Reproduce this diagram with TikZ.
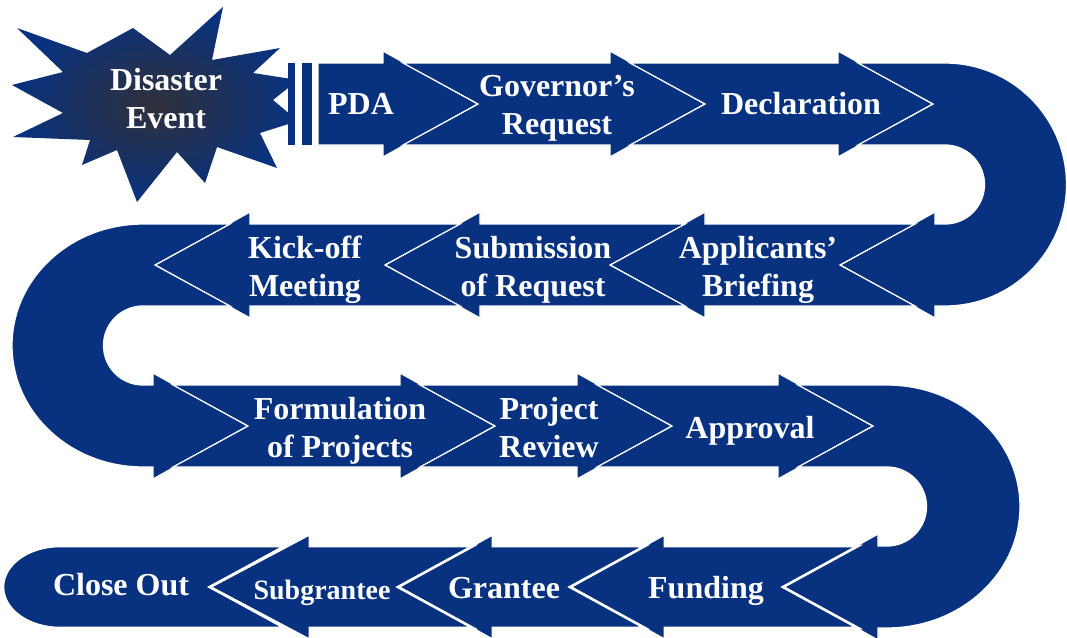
\documentclass[tikz,border=0pt]{standalone}
\usepackage{fontspec}
\setmainfont{Liberation Serif}
\definecolor{fema}{RGB}{8,50,128}
\definecolor{starcore}{RGB}{48,48,58}
\def\hb{41}\def\hh{53}\def\dd{75}
% rightward arrow: notch x, head base x, tip x, centre y, style
\newcommand\RArw[5]{\draw[#5] ({#1-\dd},{#4-\hb}) -- (#2,{#4-\hb}) -- (#2,{#4-\hh}) -- (#3,#4) -- (#2,{#4+\hh}) -- (#2,{#4+\hb}) -- ({#1-\dd},{#4+\hb}) -- (#1,#4) -- cycle;}
% leftward arrow
\newcommand\LArw[5]{\draw[#5] ({#1+\dd},{#4-\hb}) -- (#2,{#4-\hb}) -- (#2,{#4-\hh}) -- (#3,#4) -- (#2,{#4+\hh}) -- (#2,{#4+\hb}) -- ({#1+\dd},{#4+\hb}) -- (#1,#4) -- cycle;}
\begin{document}
\begin{tikzpicture}[x=1pt,y=-1pt,
  band/.style={fill=fema,draw=white,line width=1.3pt,line join=miter},
  bandthick/.style={band,line width=2.6pt},
  lbl/.style={text=white,font=\fontsize{32}{38}\selectfont\bfseries,align=center,inner sep=0pt}]
\clip (0,0) rectangle (1067,637);
\fill[white] (0,0) rectangle (1067,637);
% disaster star
\shade[inner color=starcore,outer color=fema] (223,7) -- (212,60) -- (280,48) -- (253,73) -- (298,80) -- (273,100) -- (298,121) -- (260,133) -- (277,168) -- (217,147) -- (205,183) -- (177,152) -- (137,202) -- (117,150) -- (82,165) -- (90,140) -- (13,137) -- (63,113) -- (12,85) -- (63,72) -- (17,28) -- (87,53) -- (133,28) -- (170,55) -- cycle;
% striped tail of PDA
\fill[fema] (288,63) rectangle (295,145);
\fill[fema] (302,63) rectangle (312,145);
\fill[white] (295,63) rectangle (302,145);
\fill[white] (312,63) rectangle (318,145);
% row 1
\draw[band] (318,63) -- (383,63) -- (383,51) -- (478,104) -- (383,157) -- (383,145) -- (318,145) -- cycle;
\RArw{478}{610}{705}{104}{band}
\RArw{705}{838}{933}{104}{band}
% right U turn 1
\draw[band] (858,63) -- (945,63) arc[start angle=-90,end angle=90,radius=121.5] -- (935,306) -- (935,318) -- (840,265) -- (935,212) -- (935,224) -- (945,224) arc[start angle=90,end angle=-90,radius=39.5] -- (858,145) -- (933,104) -- cycle;
% row 2
\LArw{840}{705}{610}{265}{band}
\LArw{610}{480}{385}{265}{band}
\LArw{385}{250}{155}{265}{band}
% left U turn
\draw[band] (230,224) -- (143,224) arc[start angle=-90,end angle=-270,x radius=131,y radius=121.5] -- (153,467) -- (153,479) -- (248,426) -- (153,373) -- (153,385) -- (143,385) arc[start angle=90,end angle=270,radius=39.5] -- (230,306) -- (155,265) -- cycle;
% row 3
\RArw{248}{400}{495}{426}{band}
\RArw{495}{577}{672}{426}{band}
\RArw{672}{778}{873}{426}{band}
% right U turn 2
\draw[band] (798,385) -- (887,385) arc[start angle=-90,end angle=90,x radius=133,y radius=121.5] -- (878,628) -- (878,640) -- (783,587) -- (878,534) -- (878,546) -- (887,546) arc[start angle=90,end angle=-90,radius=39.5] -- (798,467) -- (873,426) -- cycle;
% row 4
\draw[bandthick] (285,546) -- (60,546) arc[start angle=-90,end angle=-270,x radius=57,y radius=41] -- (285,628) -- (210,587) -- cycle;
\LArw{783}{665}{570}{587}{bandthick}
\LArw{570}{493}{398}{587}{bandthick}
\LArw{398}{310}{210}{587}{bandthick}
% labels
\node[lbl] (disaster) at (166,99) {Disaster\\Event};
\node[lbl] (pda) at (361,104) {PDA};
\node[lbl] (gov) at (557,108) {Governor’s\\Request};
\node[lbl] (decl) at (801,104) {Declaration};
\node[lbl] (appl) at (758,270) {Applicants’\\Briefing};
\node[lbl] (subm) at (533,270) {Submission\\of Request};
\node[lbl] (kick) at (305,270) {Kick-off\\Meeting};
\node[lbl] (form) at (340,431) {Formulation\\of Projects};
\node[lbl] (proj) at (549,427.5) {Project\\Review};
\node[lbl] (appr) at (750,431) {Approval};
\node[lbl] (fund) at (706,591) {Funding};
\node[lbl] (grant) at (504,588) {Grantee};
\node[lbl,font=\fontsize{28}{34}\selectfont\bfseries] (subg) at (322,593) {Subgrantee};
\node[lbl] (close) at (121,585) {Close Out};
\end{tikzpicture}
\end{document}
